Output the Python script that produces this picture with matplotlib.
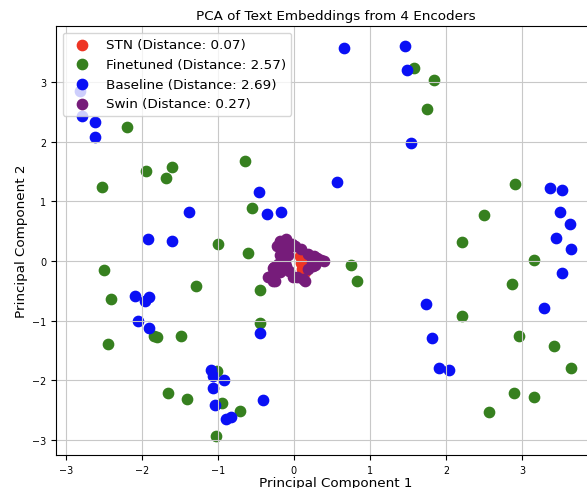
import matplotlib
matplotlib.use("Agg")
import matplotlib.pyplot as plt

# values
stn_x = [0.12, 0.15, 0.10, 0.13, 0.11, 0.17, 0.08, 0.14]
stn_y = [0.05, 0.00, -0.03, -0.08, -0.14, 0.04, 0.08, -0.18]

fin_x = [-2.20, -2.53, -1.95, -1.68, -1.61, -0.64, -0.55, -1.00, 1.58, 1.84,
         1.75, 2.91, 2.50, 2.21, -0.60, -2.50, -2.40, -1.29, -0.45, -0.45,
         -2.45, -1.84, -1.80, -1.48, -1.01, -1.66, -1.41, -0.95, -0.71, -1.02,
         0.75, 0.83, 3.16, 2.87, 2.21, 2.96, 3.42, 3.64, 2.90, 3.16, 2.57]
fin_y = [2.24, 1.25, 1.51, 1.39, 1.58, 1.67, 0.89, 0.28, 3.24, 3.03,
         2.55, 1.30, 0.77, 0.32, 0.13, -0.15, -0.64, -0.41, -0.49, -1.03,
         -1.39, -1.25, -1.27, -1.25, -1.84, -2.21, -2.31, -2.38, -2.51, -2.93,
         -0.07, -0.34, 0.02, -0.39, -0.92, -1.26, -1.42, -1.79, -2.21, -2.28, -2.53]

base_x = [-2.82, -2.79, -2.62, -2.62, -1.38, -0.46, -0.36, -0.17, -1.92, -1.61,
          0.66, 1.46, 1.49, 1.54, 0.57, 3.37, 3.53, 3.50, 3.63, 3.45, 3.64,
          -2.09, -1.96, -1.91, -2.05, -1.91, -0.44, -1.09, -1.07, -0.92, -1.06,
          -1.04, -0.89, -0.83, -0.41, 3.53, 3.29, 1.74, 1.82, 1.91, 2.04]
base_y = [2.85, 2.43, 2.33, 2.08, 0.82, 1.16, 0.79, 0.82, 0.37, 0.34,
          3.57, 3.60, 3.20, 1.98, 1.32, 1.22, 1.19, 0.82, 0.62, 0.38, 0.20,
          -0.59, -0.67, -0.60, -1.00, -1.12, -1.20, -1.83, -1.93, -1.99, -2.13,
          -2.41, -2.65, -2.61, -2.33, -0.20, -0.79, -0.72, -1.29, -1.79, -1.82]

swin_x = [-0.18, -0.10, -0.16, -0.18, -0.07, -0.03, 0.10, 0.19, 0.30, 0.36,
          0.25, 0.19, -0.21, -0.12, -0.30, -0.25, -0.07, -0.01, 0.12, 0.04,
          -0.18, -0.27, -0.34, -0.27, 0.14, 0.39, -0.26, -0.18, -0.14, 0.24,
          -0.10, 0.28, -0.22, -0.08, 0.26, 0.02]
swin_y = [0.32, 0.37, 0.20, 0.10, 0.23, 0.28, 0.20, 0.12, 0.06, 0.01,
          -0.08, -0.14, -0.05, -0.02, -0.25, -0.33, -0.16, -0.27, -0.30, -0.26,
          0.34, -0.11, -0.27, -0.33, -0.33, 0.00, -0.10, -0.18, 0.15, -0.02,
          -0.08, -0.06, 0.26, 0.10, 0.08, 0.26]

groups = [
    ("STN (Distance: 0.07)", stn_x, stn_y, "#ee3524"),
    ("Finetuned (Distance: 2.57)", fin_x, fin_y, "#36801f"),
    ("Baseline (Distance: 2.69)", base_x, base_y, "#0a10f5"),
    ("Swin (Distance: 0.27)", swin_x, swin_y, "#761c7a"),
]

fig = plt.figure(figsize=(5.87, 4.89), dpi=100)
ax = fig.add_axes([56 / 587, 33 / 489, 560 / 587, 429 / 489])

for label, xs, ys, col in groups:
    ax.scatter(xs, ys, s=55, color=col, label=label)

ax.set_xlim(-3.13, -3.13 + 560 / 76)
ax.set_ylim(-3.25, 3.94)
ax.set_xticks([-3, -2, -1, 0, 1, 2, 3])
ax.set_yticks([-3, -2, -1, 0, 1, 2, 3])
ax.tick_params(labelsize=6.9)

ax.set_title("PCA of Text Embeddings from 4 Encoders", fontsize=9.7, pad=5)
ax.set_xlabel("Principal Component 1", fontsize=9.7, labelpad=1)
ax.set_ylabel("Principal Component 2", fontsize=9.7, labelpad=3)
ax.grid(True, color="#c8c8c8")
ax.legend(loc="upper left", fontsize=9.7)

fig.savefig("out.png", dpi=100)
